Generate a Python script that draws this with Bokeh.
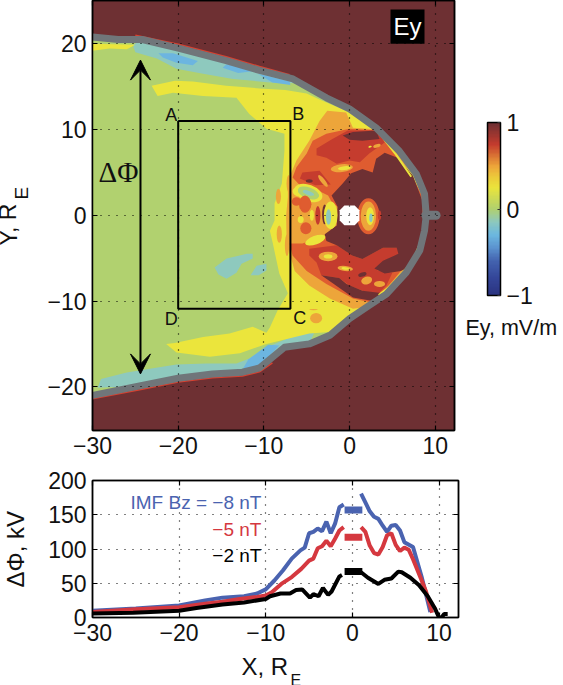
import numpy as np
from bokeh.plotting import figure
from bokeh.layouts import column
from bokeh.models import (LinearAxis, FixedTicker, Label, ColorBar, LinearColorMapper,
                          Arrow, VeeHead, Range1d)
from bokeh.embed import file_html
from bokeh.resources import INLINE

FONT = "Liberation Sans"
DARK, GREEN, YELLOW, ORANGE = "#6E3033", "#B1D16F", "#EBE53C", "#EDA53A"
REDOR, RED, CYAN, BLUE, GRAY = "#DF5C30", "#C53C2E", "#8EC9BE", "#6CB5E0", "#70767A"

X_TICKS = [-30, -20, -10, 0, 10]
X_LABELS = {-30: "−30", -20: "−20", -10: "−10", 0: "0", 10: "10"}
Y_TICKS = [-20, -10, 0, 10, 20]
Y_LABELS = {-20: "−20", -10: "−10", 0: "0", 10: "10", 20: "20"}
PHI_TICKS = [0, 50, 100, 150, 200]

# magnetopause
MP_X = [-30, -27, -24.2, -20, -14.4, -10.5, -6.6, -2.7, 0, 3.1, 5.8, 7.8, 8.75, 8.95,
        8.75, 8.2, 6.6, 4.3, 2.3, 0, -2.3, -4.7, -7.6, -10.5, -12.5, -16, -20, -24.5, -30]
MP_Y = [20.8, 20.5, 20.5, 19.5, 18.05, 16.9, 15.9, 13.7, 12.4, 10.2, 7.5, 4.8, 2.5, 0,
        -1.8, -4.1, -6.7, -9.2, -10.5, -12.05, -14, -15, -15.4, -17.8, -18.3, -18.5, -19, -19.9, -21]
NUB_X = [8.9, 10.1]
NUB_Y = [0.0, 0.0]
RIM_UP_X = [-25, -20, -14.4, -10.5, -7]
RIM_UP_Y = [21.0, 19.95, 18.5, 17.35, 16.4]
RIM_LO_X = [-30, -24.5, -20, -16, -12.5, -10.5, -9]
RIM_LO_Y = [-21.4, -20.35, -19.45, -18.95, -18.75, -18.25, -17.2]

# map regions
CYAN_UP_X = [-25.3, -25, -22.5, -20.2, -17.1, -13.6, -9.3, -6.6, -5, -9, -14.4, -20, -24.2]
CYAN_UP_Y = [19.9, 19, 18.3, 17.1, 16.5, 15.9, 15.5, 15.4, 15.2, 16.9, 18, 19.5, 20.4]
CYAN_LO_X = [-29.4, -29, -26, -23.3, -20.2, -16.7, -13.2, -11.7, -9.7, -8.5, -5.8, -3.85, -4.7, -7.6, -10.5, -16, -20, -24.5]
CYAN_LO_Y = [-20.1, -19.1, -18.35, -17.9, -17.4, -17.3, -17.3, -16.7, -15.4, -14.9, -13.8, -13.1, -15, -15.4, -17.8, -18.5, -19, -19.9]
BLUE_A_X = [-22.3, -20.6, -17.7, -18.3, -20.2, -21.8]
BLUE_A_Y = [18.9, 18.9, 18, 17.5, 17.8, 18.4]
BLUE_B_X = [-14.4, -12.8, -11.3, -13, -14.8]
BLUE_B_Y = [17.6, 17.4, 16.8, 16.6, 17.2]
BLUE_C_X = [-10.7, -9, -7, -6.9, -9]
BLUE_C_Y = [16.5, 16.1, 15.6, 15.2, 15.5]
BLUE_D_X = [-12.5, -10.5, -8.2, -9.5, -11.8]
BLUE_D_Y = [-18.0, -17.6, -15.2, -15.1, -16.8]
CYAN_E_X = [-15.75, -14.35, -12, -11.3, -11.3, -12.6, -13.2, -14.35, -15.3]
CYAN_E_Y = [-6.1, -5.05, -4.5, -4.5, -5.05, -5.65, -6.7, -7.4, -6.9]
CYAN_F_X = [-11.55, -10.85, -9.7, -9.7, -10.6]
CYAN_F_Y = [-7, -5.9, -5.65, -6.45, -7]
NOSE_YEL_X = [-30, -25, -26, -28, -30]
NOSE_YEL_Y = [20, 19.9, 19.35, 19.45, 19.2]

YELLOW_X = [-23.1, -20.4, -18.3, -14.4, -10.5, -7.5, -5, -3.5, 0, 3.1, 5.8, 7.6, 8.6, 8.6, 8, 6.4, 4.1, 2, 0, -2.3, -4.7,
            -9.7, -12.8, -16.3, -20.2, -21.4, -20.4, -17.1, -14, -11.3, -9.7, -9.3, -8.4, -7.2, -8.2, -8.95, -9.3, -8.75,
            -8.75, -7.9, -7.6, -7.6, -9.7, -11.7, -13.2, -17.1, -20.6, -22.4]
YELLOW_Y = [15.1, 15.7, 15.6, 15.1, 14.8, 14.6, 14.2, 13.5, 12, 9.9, 7.2, 4.6, 2.4, -1.8, -3.9, -6.4, -8.9, -10.3, -11.7, -13.6, -13.8,
            -15, -16.1, -16.5, -16, -15, -14.9, -14.2, -13.8, -13, -13.7, -13.1, -11.1, -9.1, -6.8, -3.3, -1.8, -0.6,
            1.4, 3.7, 7.5, 9.5, 10.1, 11.8, 13.7, 13.9, 14.3, 13.9]
ORANGE_X = [-7.2, -7.2, -6.2, -4.7, -3.5, -2.6, -0.4, 0.4, 3.5, 6, 8.5, 8.5, 6, 2.7, 0.4, -2.3, -4.7, -6.4, -7, -7.35, -7.4]
ORANGE_Y = [2.1, 4, 6.4, 8.7, 11, 12.2, 12, 10.2, 10, 7, 2, -2, -7.6, -10.6, -10.9, -9.7, -8.2, -6.5, -4.4, -2.7, 0]
REDOR_X = [-6.65, -6.2, -5, -4.3, -2.7, 0, 3.5, 5, 7.4, 8.75, 8.75, 7.2, 5, 2.7, 0.4, -2.7, -5, -6.65, -7, -5.5, -2.9, -1.5,
           -1.4, -2, -2.5, -4.1, -5.8]
REDOR_Y = [4.4, 5.6, 7.2, 8.7, 9.5, 10.1, 9.9, 7.5, 4.4, 1.7, -1.6, -5, -7.7, -10.2, -9.7, -8, -6.5, -4.7, -3.3, -3.3, -2.4, -1.2,
           1, 1.4, 2.3, 3.1, 3.5]
RED_A_X = [-3.85, -2, -0.2, 3.5, 4.1, 2.3, 1.2, 0, -1.5, -2.7, -3.85]
RED_A_Y = [7.8, 8.9, 9.9, 9.9, 8.5, 7.2, 6.2, 6.4, 6, 6.7, 7]
RED_B_X = [-4.7, -1.5, 0.3, 1.5, 3.9, 5.5, 5.9, 3.9, 3.2, 5, 4.3, 3.1, 0, -1.2, -3.3, -3.85, -4.7]
RED_B_Y = [-3.9, -3.5, -4.7, -5.1, -3.8, -3.8, -4.6, -5.5, -6.4, -6.7, -8.2, -9.4, -8.2, -7.3, -7, -5.5, -4.7]
RED_C_X = [-5.5, -3.5, -2.2, -4, -5.8]
RED_C_Y = [5.0, 5.2, 3.6, 3.5, 4.3]
DARK_X = [-1.4, -2.1, -0.8, 0.2, 1.5, 2.7, 3.1, 4.1, 5.6, 7.4, 8.5, 8.5, 8.75, 7.4, 6.6, 6, 4.1, 2.9, 3.9, 5.7, 5.5, 3.9, 1.5, 0.3,
          -1.5, -2.7, -2.9, -1.5]
DARK_Y = [1, 2.3, 3.7, 4.9, 5.4, 5, 6.6, 7.3, 6.7, 4.6, 1.7, 0, -1.6, -5, -6.2, -6.5, -6.8, -6.2, -5.3, -4.5, -3.8, -3.8, -5.1, -4.7,
          -3.5, -3, -2.2, -1.2]
DARK_B_X = [-0.8, 0.4, 3.1, 3.5, 1.5, 0]
DARK_B_Y = [9.3, 9.7, 9.9, 8.9, 8.7, 8.8]
DARK_C_X = [-3.3, -2, 0.4, 2.7, 3.9, 1.5, -0.35, -1.2]
DARK_C_Y = [-7, -7.9, -9.6, -10, -9.1, -8.8, -8, -7.3]
DIP_X = [-1.15, -0.6, 0.6, 1.15, 1.15, 0.6, -0.6, -1.15]
DIP_Y = [0.6, 1.15, 1.15, 0.6, -0.6, -1.15, -1.15, -0.6]

# small blobs: x, y, width, height, angle (rad), colour
BLOB_X = [-8.3, -8.2, -7.3, -7.1, -5.8, -4.8, -4.8, -4.8, -0.9, -0.6, 3.2, 2.4, -3.1, -4.7,
          -6.2, -5.2, -4.4, -3.7, -2.9, -2.2, -2.45, -6.0, -5.1, -6.0, -5.1,
          2.2, 2.2, 2.4, 2.5, 3.5,
          -4, -2.5, -2.5, -0.5, -0.5, -3.9, 1.5, 3.5, 2, -4.2, -2.8, -5.7]
BLOB_Y = [2.2, -2.2, -3.5, 3.7, 2.8, 2.6, 2.6, 2.6, 5.5, 5.5, 8.1, 8.0, 4.0, 4.0,
          1.6, 1.3, 0, 0, 0.1, 0, -0.2, 0.3, 1.3, -1.7, -1.5,
          -0.1, -0.1, -0.1, -0.3, 0,
          -2.9, -4.8, -4.8, -6.2, -6.2, -12.0, -6.9, -8.0, -7.6, -11.0, -11.0, -0.5]
BLOB_W = [0.6, 0.6, 0.5, 0.5, 1.7, 3.4, 2.6, 1.4, 2.6, 1.5, 0.9, 0.4, 1.7, 0.8,
          1.1, 1.4, 0.5, 0.6, 0.6, 1.6, 0.6, 0.8, 1.3, 0.8, 1.3,
          2.6, 1.8, 0.9, 0.4, 0.4,
          2.5, 2.2, 1.0, 1.8, 0.9, 1.4, 1.0, 1.3, 1.3, 1.0, 0.9, 0.7]
BLOB_H = [1.8, 2.0, 2.5, 2.0, 1.2, 1.9, 1.3, 0.5, 0.9, 0.45, 0.4, 0.2, 0.5, 0.4,
          1.0, 2.0, 1.3, 2.2, 2.3, 3.2, 1.8, 0.9, 1.4, 0.9, 1.4,
          4.2, 3.4, 2.1, 1.0, 1.1,
          1.0, 1.1, 0.5, 0.6, 0.3, 1.2, 0.5, 0.7, 0.9, 0.15, 0.2, 0.8]
BLOB_A = [0, 0, 0, 0, 0, -0.35, -0.35, -0.35, 0.1, 0.1, 0.3, 0.3, -0.9, 0,
          0, 0, 0, 0, 0, 0, 0, 0, 0, 0, 0,
          0, 0, 0, 0, 0,
          0.35, 0, 0, -0.1, -0.1, 0, 0.3, 0, 0.3, 0, 0, 0]
BLOB_C = [ORANGE, ORANGE, ORANGE, ORANGE, YELLOW, YELLOW, GREEN, CYAN, ORANGE, YELLOW, ORANGE, YELLOW, ORANGE, DARK,
          REDOR, REDOR, YELLOW, RED, DARK, YELLOW, CYAN, ORANGE, REDOR, ORANGE, REDOR,
          REDOR, ORANGE, YELLOW, CYAN, RED,
          YELLOW, ORANGE, YELLOW, ORANGE, YELLOW, ORANGE, DARK, ORANGE, ORANGE, ORANGE, YELLOW, YELLOW]

RIM_IN_UP_X = [3.5, 5.4, 7.2]
RIM_IN_UP_Y = [9.55, 7.1, 4.5]
RIM_IN_LO_X = [6.9, 4.7, 3.4]
RIM_IN_LO_Y = [-5.9, -8.3, -9.3]

BOX_X = [-20, -6.9, -6.9, -20, -20]
BOX_Y = [11, 11, -10.9, -10.9, 11]
CORNER_TEXT = ["A", "B", "C", "D"]
CORNER_X = [-20.8, -6.0, -5.8, -20.8]
CORNER_Y = [11.7, 11.8, -12, -12.1]
ARROW_X = -24.4
ARROW_TOP, ARROW_BOTTOM = 18.1, -18.5

CBAR_POS = [-1, -0.8, -0.6, -0.45, -0.3, -0.15, 0, 0.25, 0.38, 0.5, 0.75, 1]
CBAR_COL = ["#2B3480", "#35479A", "#4464B0", "#5C94D0", "#6CB8E0", "#8EC9BE", "#B1D16F", "#EBE53C", "#EDC83A", "#EDA53A", "#C53C2E", "#6E3033"]

# lower panel
BLUE1_X = [-30, -25, -20, -17, -15, -12.5, -11, -10, -9, -8, -7, -6, -5.5, -5, -4.5, -4, -3.5, -3, -2.5, -2, -1.5, -1]
BLUE1_Y = [10, 13, 17.5, 25, 29, 31, 35, 41, 54, 69, 86, 98, 102, 123, 125, 130, 126, 140, 123, 137, 161, 165]
BLUE2_X = [1, 1.5, 2, 2.5, 3, 3.5, 4, 4.5, 5, 5.5, 6, 7, 8, 9]
BLUE2_Y = [181, 168, 155, 147, 144, 134, 125, 134, 135, 127, 110, 103, 59, 8]
RED1_X = [-30, -25, -20, -17, -15, -13, -11, -10, -9.3, -8.2, -7, -5.9, -5, -4.5, -4, -3.5, -3, -2.5, -2, -1.5, -1]
RED1_Y = [8, 12, 15, 20, 23, 27, 30, 32, 37, 49, 59, 71, 83, 86, 101, 104, 112, 104, 115, 127, 132]
RED2_X = [1, 1.5, 2, 2.5, 3, 3.5, 4, 4.5, 5, 5.5, 6, 6.5, 7, 8, 8.5, 9.2]
RED2_Y = [132, 125, 105, 94, 92, 103, 120, 123, 106, 97, 102, 99, 85, 54, 38, 7]
BLACK1_X = [-30, -25.3, -20, -18, -15, -12.5, -10, -9.5, -8.3, -7.2, -6.5, -5.8, -4.9, -4.5, -3.9, -3.4, -2.8, -2.4, -1.5, -1.2]
BLACK1_Y = [6, 7, 10, 14, 19, 22, 27, 31, 35, 35, 40, 41, 29, 34, 31, 43, 33, 38, 60, 62]
BLACK2_X = [1, 1.8, 3, 3.7, 4.5, 5.3, 5.7, 6.7, 7.7, 8.7, 9.5, 10, 10.3, 10.6, 11]
BLACK2_Y = [66, 58, 49, 55, 57, 67, 66, 58, 47, 31, 14, 0, 0, 5, 5]
BAR_X = [-0.9, 1.15]
BAR_BLUE, BAR_RED, BAR_BLACK = 157, 117, 67
C_BLUE, C_RED = "#4A63B0", "#D5383F"
LEGEND_TEXT = ["IMF Bz = −8 nT", "−5 nT", "−2 nT"]
LEGEND_Y = [168, 129, 91]
LEGEND_COL = [C_BLUE, C_RED, "black"]

TICK_SIZE = "23px"


def build_palette(n=128):
    rgb = np.array([[int(c[i:i + 2], 16) for i in (1, 3, 5)] for c in CBAR_COL], float)
    grid = np.linspace(-1, 1, n)
    out = np.stack([np.interp(grid, CBAR_POS, rgb[:, k]) for k in range(3)], axis=1).astype(int)
    return ["#%02x%02x%02x" % tuple(row) for row in out]


def style_axis(ax):
    ax.major_tick_in = 5
    ax.major_tick_out = 0
    ax.minor_tick_line_color = None
    ax.axis_line_width = 1.5
    ax.major_tick_line_width = 1.2
    ax.major_label_text_font = FONT
    ax.major_label_text_font_size = TICK_SIZE
    ax.major_label_text_color = "#111111"
    ax.major_label_standoff = 6


def ghost_axis(p, side, ticks):
    ax = LinearAxis(ticker=FixedTicker(ticks=ticks), major_label_overrides={t: "" for t in ticks})
    style_axis(ax)
    ax.major_label_standoff = 0
    ax.major_label_text_font_size = "1px"
    p.add_layout(ax, side)


def side_txt(p, side, text, x, y, size, color="#111111", angle=0, font=FONT):
    p.add_layout(Label(x=x, y=y, x_units="screen", y_units="screen", text=text, text_font=font,
                       text_font_size=size, text_color=color, angle=angle, text_align="left",
                       text_baseline="alphabetic"), side)


p = figure(width=None, height=None, frame_width=365, frame_height=430, output_backend="svg", toolbar_location=None,
           x_range=Range1d(-30, 12.25), y_range=Range1d(-25.1, 25.05), min_border_left=93, min_border_top=0,
           min_border_right=105, min_border_bottom=32, background_fill_color=DARK, border_fill_color="white",
           outline_line_color="black", outline_line_width=1.5, margin=(0, 0, 0, -3))
for ax, t, lab in ((p.xaxis[0], X_TICKS, X_LABELS), (p.yaxis[0], Y_TICKS, Y_LABELS)):
    ax.ticker = FixedTicker(ticks=t)
    ax.major_label_overrides = lab
    style_axis(ax)
for g, t in ((p.xgrid[0], X_TICKS), (p.ygrid[0], Y_TICKS)):
    g.ticker = FixedTicker(ticks=t)
    g.grid_line_color = "black"
    g.grid_line_dash = "1 7"
    g.grid_line_width = 1.2
    g.level = "annotation"
ghost_axis(p, "right", Y_TICKS)
ghost_axis(p, "above", X_TICKS)

p.patch(MP_X, MP_Y, fill_color=GREEN, line_color=None)
p.patch(CYAN_UP_X, CYAN_UP_Y, fill_color=CYAN, line_color=None)
p.patch(CYAN_LO_X, CYAN_LO_Y, fill_color=CYAN, line_color=None)
p.patches([BLUE_A_X, BLUE_B_X, BLUE_C_X, BLUE_D_X], [BLUE_A_Y, BLUE_B_Y, BLUE_C_Y, BLUE_D_Y],
          fill_color=BLUE, line_color=None)
p.patches([CYAN_E_X, CYAN_F_X], [CYAN_E_Y, CYAN_F_Y], fill_color=CYAN, line_color=None)
p.patch(NOSE_YEL_X, NOSE_YEL_Y, fill_color=YELLOW, line_color=None)
p.patch(YELLOW_X, YELLOW_Y, fill_color=YELLOW, line_color=None)
p.patch(ORANGE_X, ORANGE_Y, fill_color=ORANGE, line_color=None)
p.patch(REDOR_X, REDOR_Y, fill_color=REDOR, line_color=None)
p.patches([RED_A_X, RED_B_X, RED_C_X], [RED_A_Y, RED_B_Y, RED_C_Y], fill_color=RED, line_color=None)
p.patches([DARK_X, DARK_B_X, DARK_C_X], [DARK_Y, DARK_B_Y, DARK_C_Y], fill_color=DARK, line_color=None)
p.ellipse(BLOB_X, BLOB_Y, width=BLOB_W, height=BLOB_H, angle=BLOB_A, fill_color=BLOB_C, line_color=None)
p.patch(DIP_X, DIP_Y, fill_color="white", line_color=None)
p.line(RIM_UP_X, RIM_UP_Y, line_color="#D8402F", line_width=1.5)
p.line(RIM_LO_X, RIM_LO_Y, line_color="#D8402F", line_width=1.5)
p.line(RIM_IN_UP_X, RIM_IN_UP_Y, line_color=YELLOW, line_width=2)
p.line(RIM_IN_LO_X, RIM_IN_LO_Y, line_color=YELLOW, line_width=2)
p.line(MP_X, MP_Y, line_color=GRAY, line_width=7, line_join="round")
p.line(NUB_X, NUB_Y, line_color=GRAY, line_width=9, line_cap="round")
p.line(BOX_X, BOX_Y, line_color="black", line_width=2)
p.add_layout(Arrow(end=VeeHead(size=20, fill_color="black", line_color="black"),
                   start=VeeHead(size=20, fill_color="black", line_color="black"),
                   x_start=ARROW_X, y_start=ARROW_BOTTOM, x_end=ARROW_X, y_end=ARROW_TOP,
                   line_width=2, line_color="black"))
for t, x, y in zip(CORNER_TEXT, CORNER_X, CORNER_Y):
    p.add_layout(Label(x=x, y=y, text=t, text_font=FONT, text_font_size="18px", text_color="#111111",
                       text_align="center", text_baseline="middle"))
p.quad(left=[4.78], right=[8.75], top=[24], bottom=[20], fill_color="black", line_color=None)
p.add_layout(Label(x=6.77, y=22, text="Ey", text_font=FONT, text_font_size="24px", text_color="white",
                   text_align="center", text_baseline="middle"))
p.add_layout(Label(x=-29.3, y=5.0, text="ΔΦ", text_font="Liberation Serif", text_font_size="29px",
                   text_color="#111111", text_align="left", text_baseline="alphabetic"))

mapper = LinearColorMapper(palette=build_palette(), low=-1, high=1)
cb = ColorBar(color_mapper=mapper, width=13, height=173, padding=0, margin=0, location=(33, 135),
              ticker=FixedTicker(ticks=[-1, 0, 1]), major_label_overrides={-1: "−1", 0: "0", 1: "1"},
              major_label_text_font=FONT, major_label_text_font_size=TICK_SIZE, major_label_text_color="#111111",
              major_tick_line_color="#333333", major_tick_in=3, minor_tick_line_color=None,
              bar_line_color="black", bar_line_width=1.5, label_standoff=6)
p.add_layout(cb, "right")

side_txt(p, "left", "Y, R", -10, 185, "23px", angle=1.5708)
side_txt(p, "left", "E", 24, 231, "19px", angle=1.5708)
side_txt(p, "right", "Ey, mV/m", -70, 103, "21.5px")

q = figure(width=None, height=None, frame_width=366, frame_height=137, output_backend="svg", toolbar_location=None,
           x_range=Range1d(-30, 12.25), y_range=Range1d(0, 200), min_border_left=92, min_border_top=18,
           min_border_right=105, min_border_bottom=68, border_fill_color="white",
           outline_line_color="#222222", outline_line_width=1.5, margin=(0, 0, 0, -3))
q.xaxis[0].ticker = FixedTicker(ticks=X_TICKS)
q.xaxis[0].major_label_overrides = X_LABELS
q.yaxis[0].ticker = FixedTicker(ticks=PHI_TICKS)
style_axis(q.xaxis[0])
style_axis(q.yaxis[0])
for g, t in ((q.xgrid[0], X_TICKS), (q.ygrid[0], PHI_TICKS)):
    g.ticker = FixedTicker(ticks=t)
    g.grid_line_color = "black"
    g.grid_line_dash = "1 7"
    g.grid_line_width = 1.2
ghost_axis(q, "right", PHI_TICKS)
ghost_axis(q, "above", X_TICKS)
q.line(BLUE1_X, BLUE1_Y, line_color=C_BLUE, line_width=4)
q.line(BLUE2_X, BLUE2_Y, line_color=C_BLUE, line_width=4)
q.line(RED1_X, RED1_Y, line_color=C_RED, line_width=4)
q.line(RED2_X, RED2_Y, line_color=C_RED, line_width=4)
q.line(BLACK1_X, BLACK1_Y, line_color="black", line_width=4)
q.line(BLACK2_X, BLACK2_Y, line_color="black", line_width=4)
q.line(BAR_X, [BAR_BLUE] * 2, line_color=C_BLUE, line_width=7)
q.line(BAR_X, [BAR_RED] * 2, line_color=C_RED, line_width=7)
q.line(BAR_X, [BAR_BLACK] * 2, line_color="black", line_width=7)
for t, y, c in zip(LEGEND_TEXT, LEGEND_Y, LEGEND_COL):
    q.add_layout(Label(x=-10.5, y=y, text=t, text_font=FONT, text_font_size="19px", text_color=c,
                       text_align="right", text_baseline="middle"))

side_txt(q, "left", "ΔΦ, kV", -3, 30, "24px", angle=1.5708)
side_txt(q, "below", "X, R", 149, 4, "24px")
side_txt(q, "below", "E", 198, 7, "16px")

page = column(p, q, spacing=0)
open("out.html", "w").write(file_html(page, INLINE))
